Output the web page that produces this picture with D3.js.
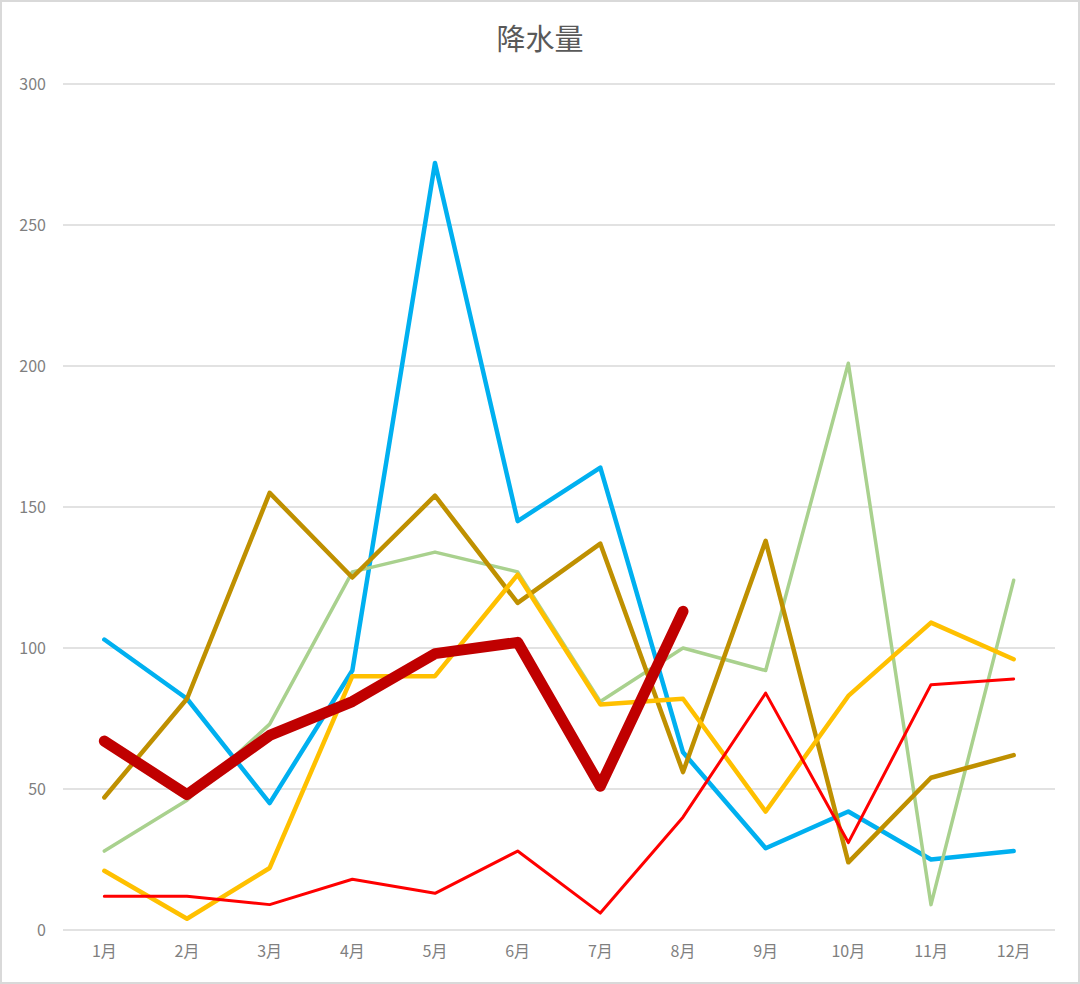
<!DOCTYPE html>
<html><head><meta charset="utf-8">
<script src="https://cdn.jsdelivr.net/npm/d3@7"></script>
<style>
html,body{margin:0;padding:0;background:#fff;}
svg{display:block;}
text{font-family:"Noto Sans CJK SC","Noto Sans",sans-serif;}
</style></head>
<body>
<svg id="chart" width="1080" height="984"></svg>
<script>
const title = "降水量";
const months = ["1月","2月","3月","4月","5月","6月","7月","8月","9月","10月","11月","12月"];
const yTicks = [0,50,100,150,200,250,300];
const seriesBlue   = [103,82,45,92,272,145,164,63,29,42,25,28];
const seriesGreen  = [28,46,73,127,134,127,81,100,92,201,9,124];
const seriesGold   = [47,82,155,125,154,116,137,56,138,24,54,62];
const seriesYellow = [21,4,22,90,90,126,80,82,42,83,109,96];
const seriesRed    = [12,12,9,18,13,28,6,40,84,31,87,89];
const seriesDark   = [67,48,69,81,98,102,51,113];
const seriesColors = ["#00B0F0","#A9D18E","#BF9000","#FFC000","#FF0000","#C00000"];
const seriesWidths = [4.5,3.5,4.5,4.5,3,11];

const series = [seriesBlue,seriesGreen,seriesGold,seriesYellow,seriesRed,seriesDark];
const svg = d3.select("#chart");
const W=1080,H=984;
const m = {left:63,right:25,top:84,bottom:54};

svg.append("rect").attr("x",1).attr("y",1).attr("width",W-2).attr("height",H-2)
  .attr("fill","#fff").attr("stroke","#D9D9D9").attr("stroke-width",2);

const x = d3.scaleBand().domain(months).range([m.left,W-m.right]);
const y = d3.scaleLinear().domain([0,300]).range([H-m.bottom,m.top]);

svg.append("text").attr("x",540).attr("y",50).attr("text-anchor","middle")
  .attr("font-size",29).attr("fill","#595959").text(title);

const grid = svg.append("g");
grid.selectAll("line").data(yTicks).join("line")
  .attr("x1",m.left).attr("x2",W-m.right)
  .attr("y1",d=>y(d)).attr("y2",d=>y(d))
  .attr("stroke","#D9D9D9").attr("stroke-width",1.5);

const yAxis = svg.append("g").attr("transform",`translate(${m.left},0)`)
  .call(d3.axisLeft(y).tickValues(yTicks).tickSize(0).tickPadding(17));
yAxis.select(".domain").remove();
yAxis.selectAll("text").attr("font-size",16).attr("fill","#7F7F7F")
  .style("font-family","'Noto Sans CJK SC','Noto Sans',sans-serif");

const xAxis = svg.append("g").attr("transform",`translate(0,${H-m.bottom})`)
  .call(d3.axisBottom(x).tickSize(0).tickPadding(16));
xAxis.select(".domain").remove();
xAxis.selectAll("text").attr("font-size",16).attr("fill","#7F7F7F")
  .style("font-family","'Noto Sans CJK SC','Noto Sans',sans-serif");

const line = d3.line().x((d,i)=>x(months[i])+x.bandwidth()/2).y(d=>y(d));
series.forEach((s,k)=>{
  svg.append("path").datum(s).attr("d",line)
    .attr("fill","none").attr("stroke",seriesColors[k])
    .attr("stroke-width",seriesWidths[k])
    .attr("stroke-linejoin","round").attr("stroke-linecap","round");
});
</script>
</body></html>
